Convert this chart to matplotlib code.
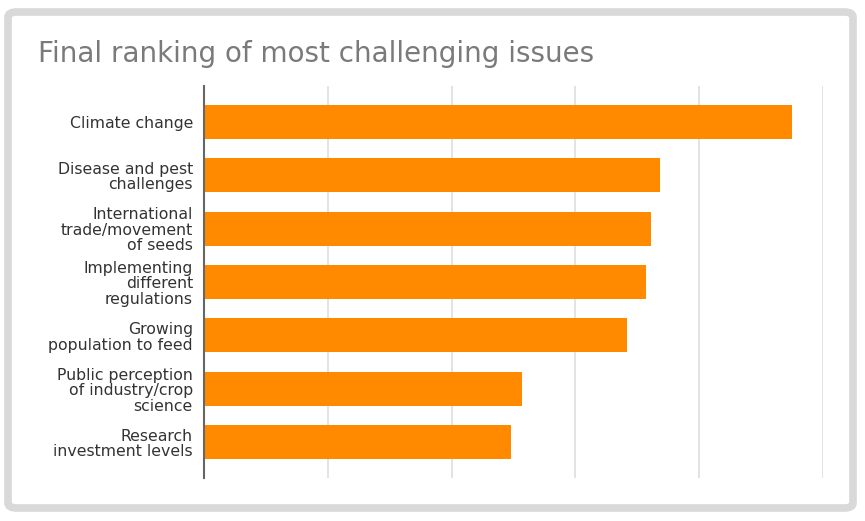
import matplotlib.pyplot as plt
from matplotlib.patches import FancyBboxPatch

# data
issues = [
    "Climate change",
    "Disease and pest\nchallenges",
    "International\ntrade/movement\nof seeds",
    "Implementing\ndifferent\nregulations",
    "Growing\npopulation to feed",
    "Public perception\nof industry/crop\nscience",
    "Research\ninvestment levels",
]
scores = [4.75, 3.68, 3.61, 3.57, 3.42, 2.57, 2.48]
x_ticks = [0, 1, 2, 3, 4, 5]

W, H = 865, 521
fig = plt.figure(figsize=(W / 100, H / 100), dpi=100)

# rounded grey frame round the whole card
frame = FancyBboxPatch((8 / W, 13 / H), 845 / W, 496 / H,
                       boxstyle="round,pad=0,rounding_size=0.01",
                       transform=fig.transFigure, facecolor="white",
                       edgecolor="#d9d9d9", linewidth=5.5, zorder=-5)
fig.patches.append(frame)

ax = fig.add_axes([204 / W, 1 - 478 / H, (823 - 204) / W, (478 - 86) / H])
ax.set_facecolor("none")
ax.set_zorder(2)

ypos = list(range(len(issues)))
ax.barh(ypos, scores, height=0.64, color="#ff8a00", zorder=3)

ax.set_xlim(0, 5)
ax.set_ylim(len(issues) - 1 + 0.67, -0.67)
ax.set_xticks(x_ticks)
ax.set_xticklabels([])
ax.tick_params(axis="x", length=0)
ax.tick_params(axis="y", length=0, pad=8)
ax.set_yticks(ypos)
ax.set_yticklabels(issues, fontsize=11.3, color="#333333", linespacing=1.05)
ax.grid(axis="x", color="#e0e0e0", linewidth=1.3, zorder=0)

for side in ["top", "right", "bottom"]:
    ax.spines[side].set_visible(False)
ax.spines["left"].set_color("#666666")
ax.spines["left"].set_linewidth(1.5)
ax.spines["left"].set_zorder(4)

fig.text(38 / W, 1 - 62 / H, "Final ranking of most challenging issues",
         fontsize=20, color="#7a7a7a", ha="left", va="baseline", zorder=3)

fig.savefig("out.png", dpi=100)
